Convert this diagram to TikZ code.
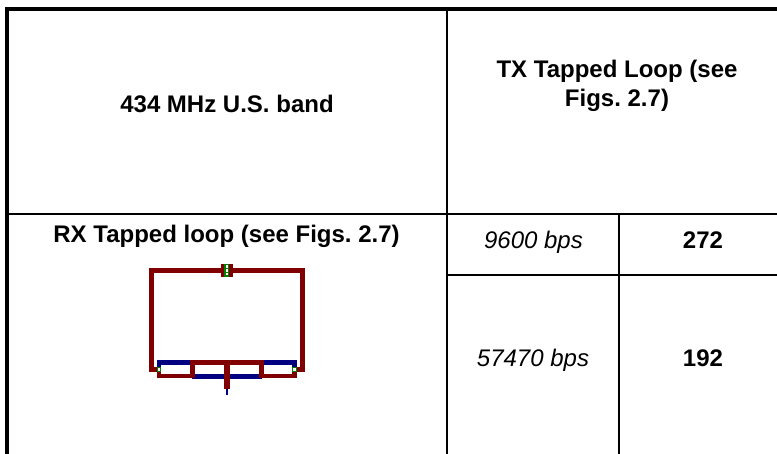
\documentclass[tikz,border=0pt]{standalone}
\usepackage{fontspec}
\setmainfont{Liberation Sans}
\definecolor{trackred}{RGB}{128,0,0}
\definecolor{trackblue}{RGB}{0,0,128}
\definecolor{padgreen}{RGB}{0,128,0}
\tikzset{
  boldlabel/.style={font=\frenchspacing\fontsize{24}{29}\selectfont\bfseries,align=center},
  ratelabel/.style={font=\fontsize{24}{29}\selectfont\itshape},
  redtrack/.style={draw=trackred,line width=4.6pt},
  bluetrack/.style={draw=trackblue,line width=4.8pt},
  padhole/.style={fill=white,minimum size=2.4pt,inner sep=0pt}
}
\begin{document}
\begin{tikzpicture}[x=1pt,y=-1pt]
      \useasboundingbox (0,0) rectangle (777,454);
      \draw
        (227,104) node[boldlabel] (band){434 MHz U.S. band}
        (617,86) node[boldlabel] (tx){TX Tapped Loop (see\\Figs. 2.7)}
        (226.5,236) node[boldlabel] (rx){RX Tapped loop (see Figs. 2.7)}
        (533.5,242) node[ratelabel] (slow){9600 bps}
        (703,240.5) node[boldlabel] (slowval){272}
        (533,360) node[ratelabel] (fast){57470 bps}
        (703,358.5) node[boldlabel] (fastval){192};
      % table
      \begin{scope}[line width=4.3pt]
        \draw (7,454) -- (7,9.2) -- (777,9.2);
      \end{scope}
      \begin{scope}[line width=2pt]
        \draw (447,9) -- (447,454);
        \draw (7,213.7) -- (777,213.7);
        \draw (447,274.7) -- (777,274.7);
        \draw (618.7,213.7) -- (618.7,454);
      \end{scope}
      % loop
      \begin{scope}[bluetrack]
        \draw (159,370) -- (159,362.4) -- (192,362.4);
        \draw (294.5,370) -- (294.5,362.4) -- (262,362.4);
        \draw (192,376.2) -- (262,376.2);
      \end{scope}
      \draw[trackblue,line width=2.3pt] (227,388) -- (227,394.7);
      \begin{scope}[redtrack]
        \draw (159,369.5) -- (151.7,369.5) -- (151.7,270.7) -- (302.3,270.7) -- (302.3,369.5) -- (294.5,369.5);
        \draw (159,371.5) -- (159,376.2) -- (192.2,376.2) -- (192.2,362.4) -- (261.2,362.4) -- (261.2,376.2) -- (294.5,376.2) -- (294.5,371.5);
        \draw[line width=6pt] (227,362.4) -- (227,389.3);
      \end{scope}
      \fill[trackred] (220.7,264) rectangle (233,276.7);
      \fill[padgreen] (224,264) rectangle (229.3,276.7);
      \fill[padgreen] (156.7,367.3) rectangle (161.2,371.7);
      \fill[padgreen] (292.3,367.3) rectangle (296.7,371.7);
      \draw
        (226.7,266.7) node[padhole] (hole1){}
        (226.7,270.7) node[padhole] (hole2){}
        (226.7,274.3) node[padhole] (hole3){}
        (159,369.5) node[padhole] (hole4){}
        (294.5,369.5) node[padhole] (hole5){};
    \end{tikzpicture}
\end{document}
